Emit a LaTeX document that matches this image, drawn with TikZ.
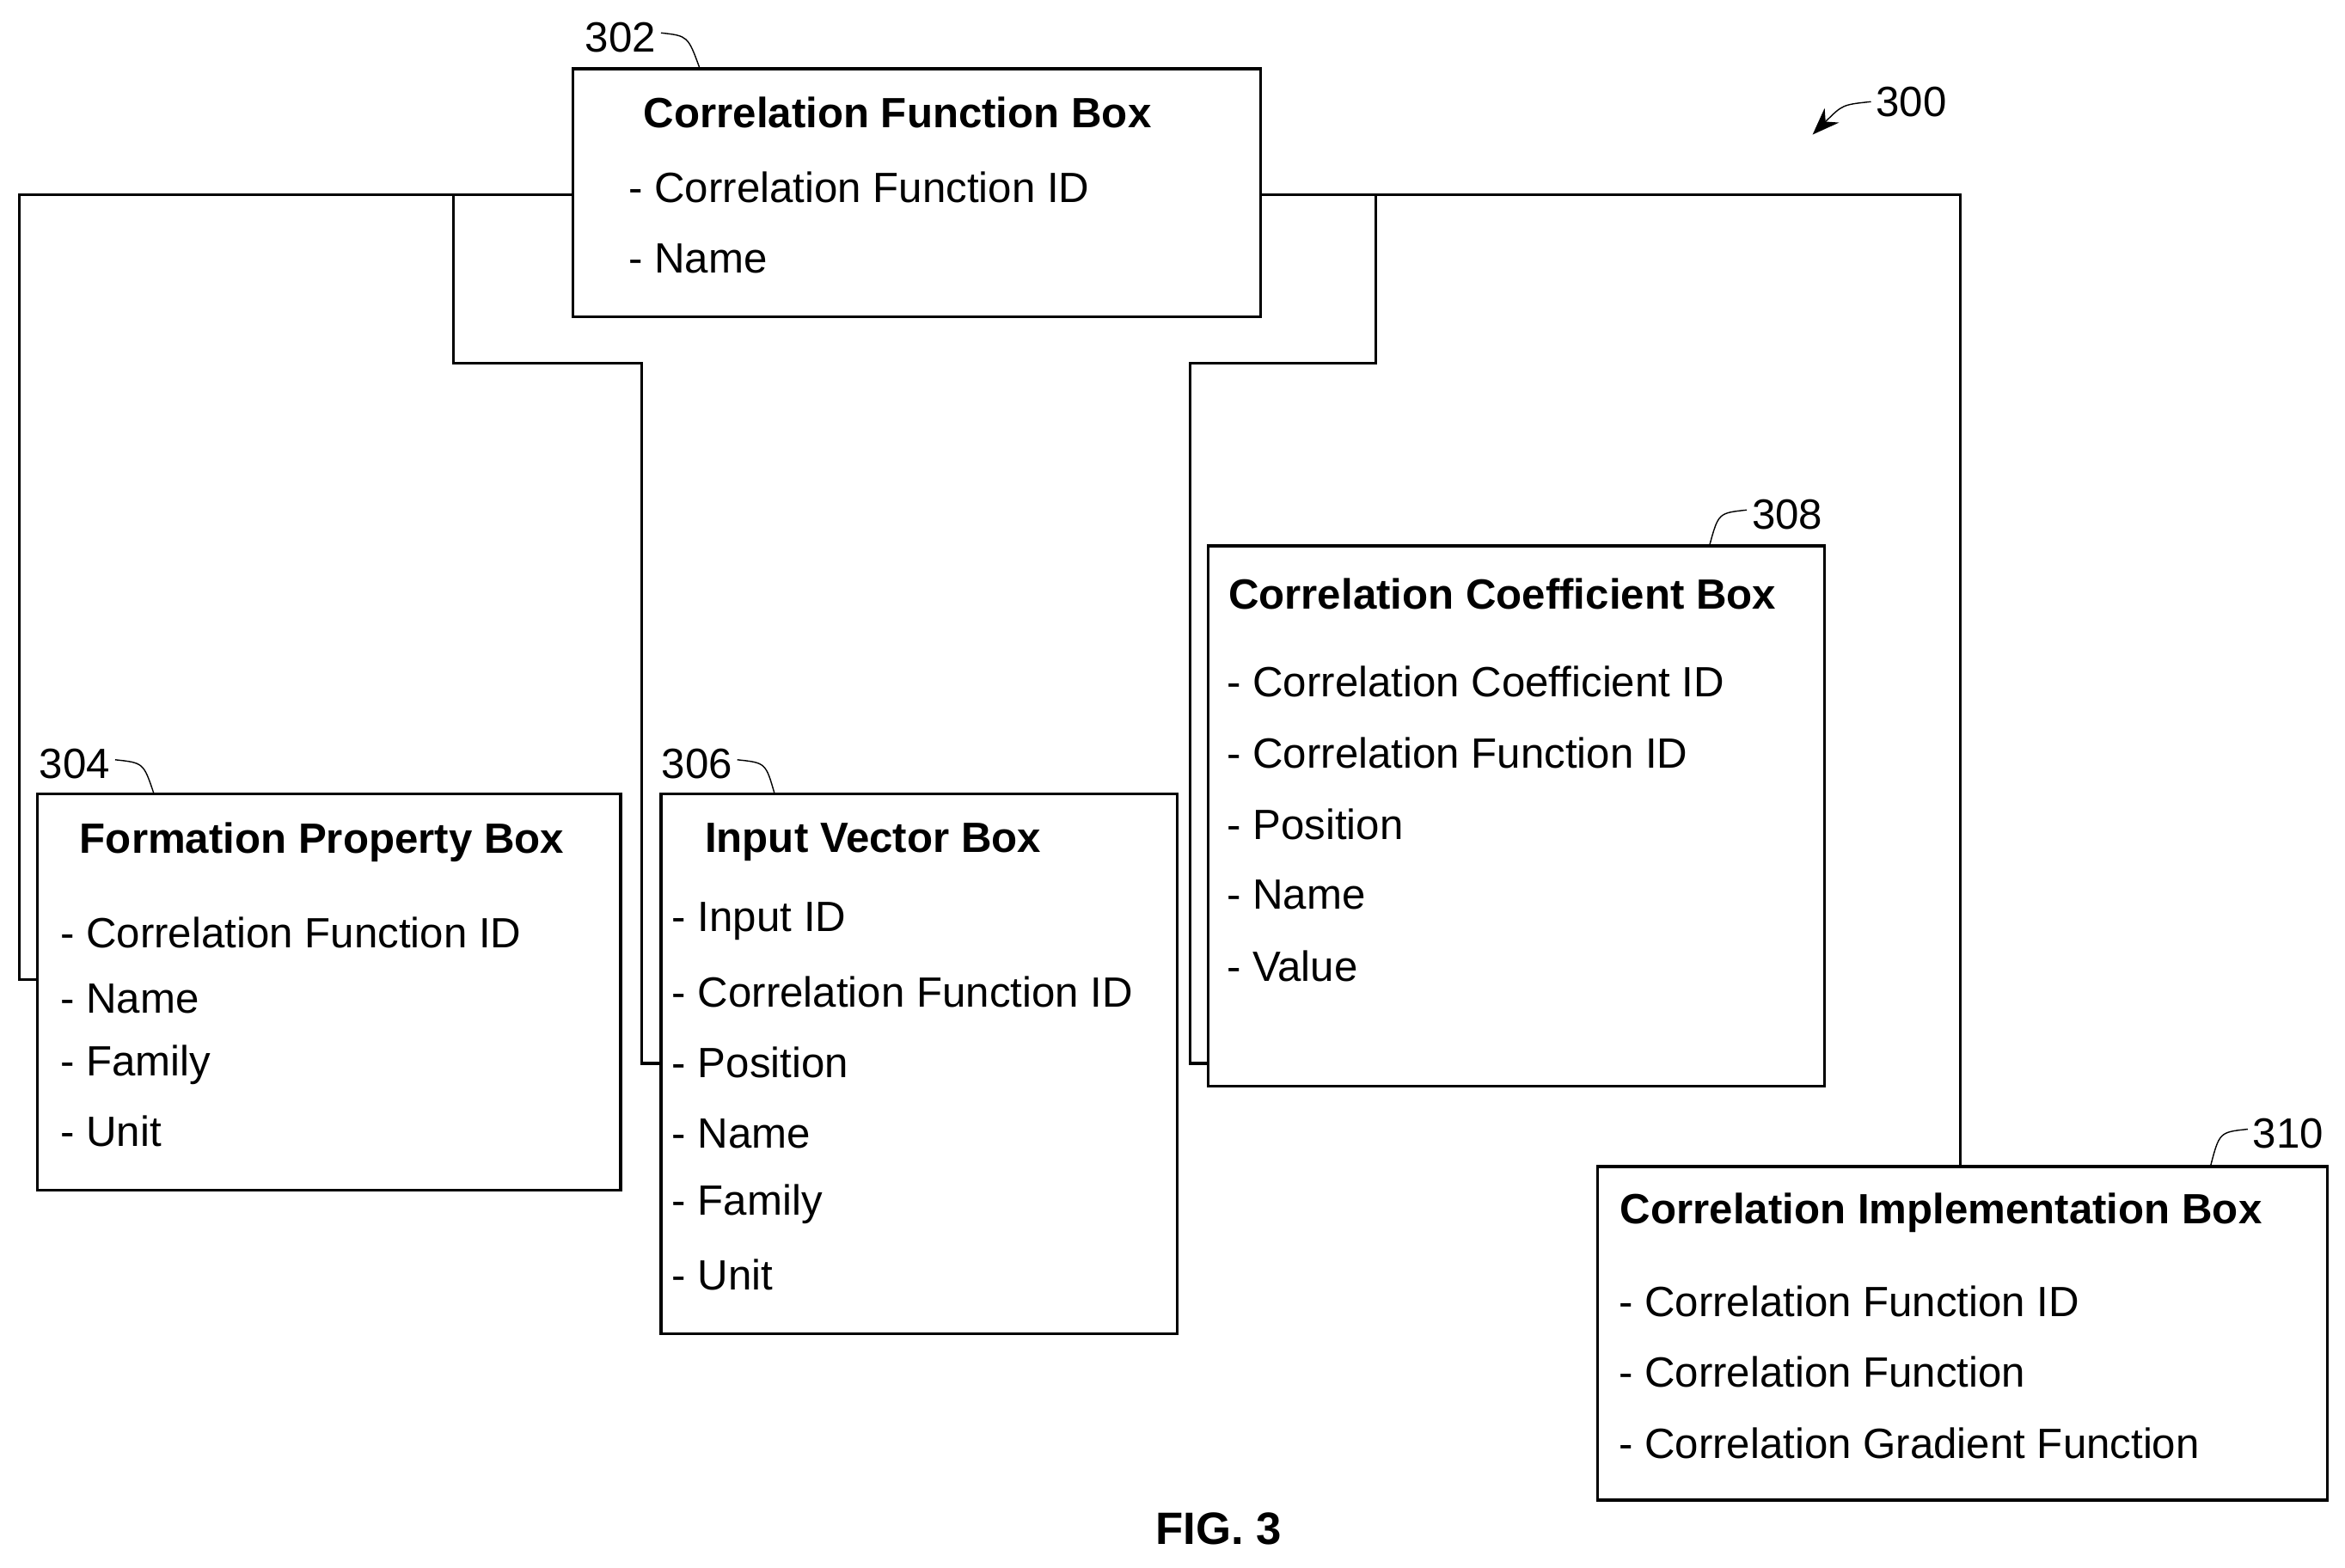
\documentclass[tikz,border=0pt]{standalone}
\usepackage{fontspec}
\setmainfont{Liberation Sans}
\usetikzlibrary{calc}
\usetikzlibrary{arrows.meta}

\begin{document}
\begin{tikzpicture}[x=0.01740cm,y=-0.01740cm,
    font=\fontsize{14}{16}\selectfont,
    boxn/.style={draw=black,line width=0.9pt},
    titlen/.style={anchor=west,inner sep=0pt,font=\fontsize{14}{16}\selectfont\bfseries},
    itemn/.style={anchor=west,inner sep=0pt},
    refn/.style={inner sep=0pt,font=\fontsize{14}{16}\selectfont},
    link/.style={draw=black,line width=0.9pt}]
  \useasboundingbox (0,0) rectangle (1568,1048);
  % boxes
  \draw[boxn] (383,46) coordinate (cf nw) rectangle (843,212) coordinate (cf se);
  \draw[boxn] (25,531) rectangle (415,796);
  \draw[boxn] (442,531) rectangle (787,892);
  \draw[boxn] (808,365) rectangle (1220,726);
  \draw[boxn] (1068,780) rectangle (1556,1003);
  % box texts
  \node[titlen] (cft) at (430,75) {Correlation Function Box};
  \node[itemn] (cf1) at (420,125) {- Correlation Function ID};
  \node[itemn] (cf2) at (420,173) {- Name};
  \node[titlen] (fpt) at (53,563) {Formation Property Box};
  \foreach \t [count=\i] in {Correlation Function ID,Name,Family,Unit}
    \node[itemn] (fp\i) at (40,{579+44.3*\i}) {- \t};
  \node[titlen] (ivt) at (471,563) {Input Vector Box};
  \foreach \t [count=\i] in {Input ID,Correlation Function ID,Position,Name,Family,Unit}
    \node[itemn] (iv\i) at (449,{569+47.2*\i}) {- \t};
  \node[titlen] (cct) at (821,397) {Correlation Coefficient Box};
  \foreach \t [count=\i] in {Correlation Coefficient ID,Correlation Function ID,Position,Name,Value}
    \node[itemn] (cc\i) at (820,{408.5+47.5*\i}) {- \t};
  \node[titlen] (cit) at (1083,811) {Correlation Implementation Box};
  \foreach \t [count=\i] in {Correlation Function ID,Correlation Function,Correlation Gradient Function}
    \node[itemn] (ci\i) at (1082,{822.5+47.5*\i}) {- \t};
  % connectors
  \draw[link] (383,130) -- (13,130) -- (13,655) -- (25,655);
  \draw[link] (303,130) -- (303,243) -- (429,243) -- (429,711) -- (442,711);
  \draw[link] (843,130) -- (1311,130) -- (1311,780);
  \draw[link] (920,130) -- (920,243) -- (796,243) -- (796,711) -- (808,711);
  % reference numerals
  \node[refn] (r302) at (415,25) {302};
  \draw (442,22) .. controls (460,24) .. (468,46);
  \node[refn] (r304) at (50,511) {304};
  \draw (77,508) .. controls (96,510) .. (103,531);
  \node[refn] (r306) at (466,511) {306};
  \draw (493,508) .. controls (512,510) .. (518,531);
  \node[refn] (r308) at (1195,344) {308};
  \draw (1168,341) .. controls (1149,343) .. (1143,365);
  \node[refn] (r310) at (1530,758) {310};
  \draw (1503,755) .. controls (1484,757) .. (1478,780);
  \node[refn] (r300) at (1278,68) {300};
  \draw[-{Stealth[length=9pt]}] (1251,68) .. controls (1232,70) .. (1212,90);
  \node[refn,font=\fontsize{15}{17}\selectfont\bfseries] (fig) at (815,1022) {FIG. 3};
\end{tikzpicture}
\end{document}
